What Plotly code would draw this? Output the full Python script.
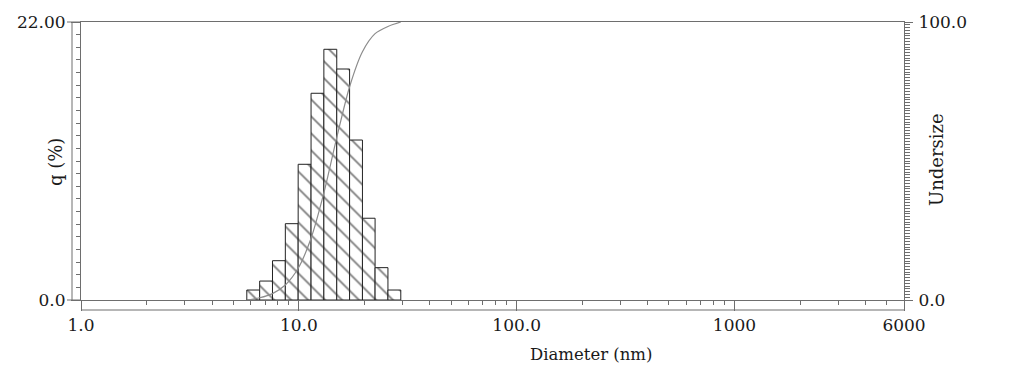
import numpy as np
import plotly.graph_objects as go

# ---- data ----
bin_lower_nm = [5.77, 6.61, 7.57, 8.67, 9.93, 11.38, 13.03, 14.93, 17.10, 19.59, 22.39, 25.65]
bin_upper_nm = [6.61, 7.57, 8.67, 9.93, 11.38, 13.03, 14.93, 17.10, 19.59, 22.39, 25.65, 29.38]
q_percent = [0.79, 1.50, 3.11, 6.04, 10.74, 16.36, 19.84, 18.28, 12.66, 6.47, 2.56, 0.79]

undersize_diam_nm = [5.77, 6.61, 7.57, 8.67, 9.93, 11.38, 13.03, 14.93, 17.10, 19.59, 22.39, 25.65, 29.38]
undersize_pct = [0.0, 0.8, 2.3, 5.4, 11.4, 22.2, 38.5, 58.4, 76.7, 89.3, 95.8, 98.4, 100.0]

x_tick_vals = [1, 10, 100, 1000, 6000]
x_tick_text = ["1.0", "10.0", "100.0", "1000", "6000"]
y_tick_vals = [0, 10, 20, 22]
y_tick_text = ["0.0", "", "", "22.00"]
y2_tick_vals = [0, 10, 20, 30, 40, 50, 60, 70, 80, 90, 100]
y2_tick_text = ["0.0", "", "", "", "", "", "", "", "", "", "100.0"]

# ---- layout geometry (page body has an 8px margin) ----
OFF = 8
W, H = 1023 - OFF, 373 - OFF
ML, MT = 81 - OFF, 22 - OFF
MR = W - (904 - OFF)
MB = H - (300 - OFF)
PW, PH = W - ML - MR, H - MT - MB

def px(x):  # page pixel x -> paper
    return (x - OFF - ML) / PW

def py(y):  # page pixel y -> paper
    return (H - MB - (y - OFF)) / PH

FONT = "DejaVu Serif"
LINE = "#6e6e6e"
TXT = "#1a1a1a"

widths = [u - l for l, u in zip(bin_lower_nm, bin_upper_nm)]

fig = go.Figure()
fig.add_trace(go.Bar(
    x=bin_lower_nm, y=q_percent, width=widths, offset=0,
    marker=dict(
        color="white",
        line=dict(color="#222222", width=1),
        pattern=dict(shape="\\", fgcolor="black", bgcolor="white", size=12, solidity=0.15),
    ),
    hoverinfo="skip",
))
fig.add_trace(go.Scatter(
    x=undersize_diam_nm, y=undersize_pct, yaxis="y2", mode="lines",
    line=dict(color="#8c8c8c", width=1.2, shape="spline", smoothing=0.8),
    hoverinfo="skip",
))

minor_x = [m * 10 ** k for k in range(4) for m in range(2, 10) if m * 10 ** k < 6000]

fig.update_layout(
    width=W, height=H,
    margin=dict(l=ML, r=MR, t=MT, b=MB, autoexpand=False),
    paper_bgcolor="white", plot_bgcolor="white",
    showlegend=False,
    xaxis=dict(
        type="log", range=[0, np.log10(6000)],
        tickmode="array", tickvals=x_tick_vals, ticktext=x_tick_text,
        ticks="outside", ticklen=10, tickcolor=LINE, tickwidth=1,
        showline=True, linecolor=LINE, linewidth=1, mirror=True,
        showgrid=False, zeroline=False,
        minor=dict(tickvals=minor_x, ticks="outside", ticklen=4, tickcolor=LINE, showgrid=False),
        tickfont=dict(family=FONT, size=17, color=TXT),
    ),
    yaxis=dict(
        range=[0, 22],
        tickmode="array", tickvals=y_tick_vals, ticktext=y_tick_text,
        ticks="outside", ticklen=9, tickcolor=LINE,
        showline=True, linecolor=LINE, linewidth=1,
        showgrid=False, zeroline=False,
        minor=dict(tickvals=list(range(0, 23)), ticks="outside", ticklen=4, tickcolor=LINE, showgrid=False),
        tickfont=dict(family=FONT, size=17, color=TXT),
        ticklabelstandoff=2,
    ),
    yaxis2=dict(
        overlaying="y", side="right", range=[0, 100],
        tickmode="array", tickvals=y2_tick_vals, ticktext=y2_tick_text,
        ticks="outside", ticklen=8, tickcolor=LINE,
        showline=True, linecolor=LINE, linewidth=1,
        showgrid=False, zeroline=False,
        minor=dict(tickvals=list(range(0, 101)), ticks="outside", ticklen=5, tickcolor=LINE, showgrid=False),
        tickfont=dict(family=FONT, size=17, color=TXT),
        ticklabelstandoff=2,
    ),
)

# extra offset axis lines like the original
fig.add_shape(type="line", xref="paper", yref="paper", x0=px(72), x1=px(72), y0=0, y1=1,
              line=dict(color=LINE, width=1))
fig.add_shape(type="line", xref="paper", yref="paper", x0=0, x1=1, y0=py(310), y1=py(310),
              line=dict(color=LINE, width=1))
fig.add_shape(type="line", xref="paper", yref="paper", x0=px(67), x1=0, y0=1, y1=1,
              line=dict(color=LINE, width=1))
fig.add_shape(type="line", xref="paper", yref="paper", x0=px(67), x1=0, y0=0, y1=0,
              line=dict(color=LINE, width=1))

# axis titles
fig.add_annotation(text="Diameter (nm)", xref="paper", yref="paper",
                   x=px(591), y=py(354), xanchor="center", yanchor="middle",
                   showarrow=False, font=dict(family=FONT, size=16.5, color=TXT))
fig.add_annotation(text="q (%)", xref="paper", yref="paper",
                   x=px(55), y=py(162), xanchor="center", yanchor="middle",
                   textangle=-90, showarrow=False, font=dict(family=FONT, size=18, color=TXT))
fig.add_annotation(text="Undersize", xref="paper", yref="paper",
                   x=px(936), y=py(160), xanchor="center", yanchor="middle",
                   textangle=-90, showarrow=False, font=dict(family=FONT, size=18, color=TXT))

fig.write_html("out.html")
